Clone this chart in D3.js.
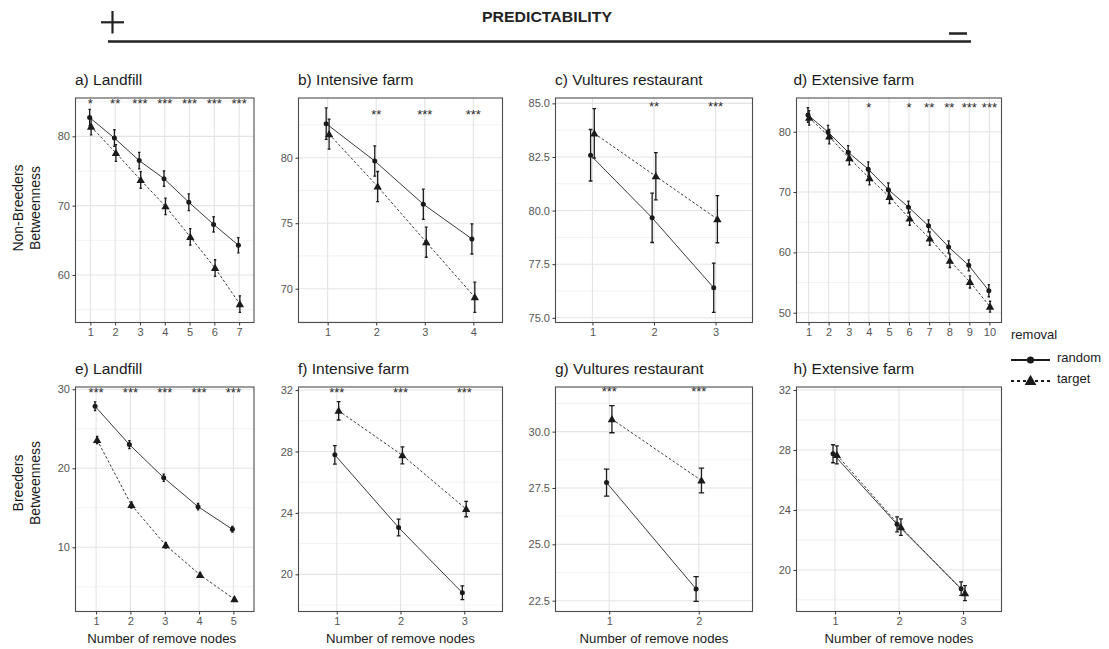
<!DOCTYPE html>
<html>
<head>
<meta charset="utf-8">
<script src="https://cdn.jsdelivr.net/npm/d3@7"></script>
<style>
  body { margin: 0; background: #fff; }
  svg { display: block; }
</style>
</head>
<body>
<svg id="chart" width="1109" height="649"></svg>
<script>
// ---- Non-breeders betweenness (top row) ----
const nbLandfillRandom  = [82.7, 79.75, 76.5, 73.9, 70.5, 67.3, 64.3];
const nbLandfillTarget  = [81.4, 77.6, 73.7, 69.9, 65.5, 61.0, 55.8];
const nbLandfillSeR     = [1.2, 1.2, 1.2, 1.1, 1.2, 1.1, 1.1];
const nbLandfillSeT     = [1.2, 1.2, 1.2, 1.2, 1.2, 1.2, 1.2];
const nbLandfillSig     = ["*", "**", "***", "***", "***", "***", "***"];

const nbIntensiveRandom = [82.6, 79.75, 76.45, 73.8];
const nbIntensiveTarget = [81.8, 77.8, 73.55, 69.35];
const nbIntensiveSeR    = [1.2, 1.15, 1.15, 1.15];
const nbIntensiveSeT    = [1.15, 1.15, 1.15, 1.15];
const nbIntensiveSig    = ["", "**", "***", "***"];

const nbVulturesRandom  = [82.58, 79.66, 76.4];
const nbVulturesTarget  = [83.6, 81.6, 79.6];
const nbVulturesSeR     = [1.2, 1.15, 1.15];
const nbVulturesSeT     = [1.15, 1.1, 1.1];
const nbVulturesSig     = ["", "**", "***"];

const nbExtensiveRandom = [82.77, 79.95, 76.6, 73.8, 70.4, 67.5, 64.4, 60.9, 57.85, 53.65];
const nbExtensiveTarget = [82.3, 79.2, 75.6, 72.3, 69.2, 65.6, 62.3, 58.6, 55.1, 51.0];
const nbExtensiveSeR    = [1.2, 1.1, 1.1, 1.2, 1.1, 1.0, 1.0, 1.0, 0.9, 1.0];
const nbExtensiveSeT    = [1.2, 1.2, 1.1, 1.1, 1.1, 1.1, 1.1, 1.1, 1.0, 0.9];
const nbExtensiveSig    = ["", "", "", "*", "", "*", "**", "**", "***", "***"];

// ---- Breeders betweenness (bottom row) ----
const brLandfillRandom  = [27.85, 23.0, 18.8, 15.14, 12.28];
const brLandfillTarget  = [23.58, 15.35, 10.25, 6.5, 3.42];
const brLandfillSeR     = [0.55, 0.5, 0.45, 0.4, 0.35];
const brLandfillSeT     = [0.45, 0.4, 0.35, 0.3, 0.25];
const brLandfillSig     = ["***", "***", "***", "***", "***"];

const brIntensiveRandom = [27.78, 23.05, 18.8];
const brIntensiveTarget = [30.65, 27.75, 24.25];
const brIntensiveSeR    = [0.6, 0.55, 0.45];
const brIntensiveSeT    = [0.6, 0.55, 0.5];
const brIntensiveSig    = ["***", "***", "***"];

const brVulturesRandom  = [27.74, 23.02];
const brVulturesTarget  = [30.55, 27.83];
const brVulturesSeR     = [0.6, 0.55];
const brVulturesSeT     = [0.6, 0.55];
const brVulturesSig     = ["***", "***"];

const brExtensiveRandom = [27.75, 23.04, 18.75];
const brExtensiveTarget = [27.67, 22.85, 18.45];
const brExtensiveSeR    = [0.6, 0.5, 0.45];
const brExtensiveSeT    = [0.6, 0.55, 0.5];
const brExtensiveSig    = ["", "", ""];

// ---- panel titles, axis ranges and tick labels ----
const panelTitles = ["a) Landfill", "b) Intensive farm", "c) Vultures restaurant", "d) Extensive farm",
                     "e) Landfill", "f) Intensive farm", "g) Vultures restaurant", "h) Extensive farm"];
const yRanges = [[53.15, 85.53], [67.42, 84.56], [74.78, 85.25], [48.38, 85.59],
                 [1.87, 30.29], [17.58, 32.2], [22.02, 31.98], [17.23, 32.2]];
const yTickValues = [[60, 70, 80], [70, 75, 80], [75, 77.5, 80, 82.5, 85], [50, 60, 70, 80],
                     [10, 20, 30], [20, 24, 28, 32], [22.5, 25, 27.5, 30], [20, 24, 28, 32]];
const yTickFormats = ["d", "d", ".1f", "d", "d", "d", ".1f", "d"];
const sigLevels = [85.2, 83.5, 85.0, 84.4, 30.0, 32.0, 31.9, 32.0];

const rowLabels = [["Non-Breeders", "Betweenness"], ["Breeders", "Betweenness"]];
const xAxisTitle = "Number of remove nodes";
const legendTitle = "removal";
const seriesNames = ["random", "target"];
const headerTitle = "PREDICTABILITY";

// Panel table assembled from the arrays above
const panels = [
  [nbLandfillRandom, nbLandfillTarget, nbLandfillSeR, nbLandfillSeT, nbLandfillSig],
  [nbIntensiveRandom, nbIntensiveTarget, nbIntensiveSeR, nbIntensiveSeT, nbIntensiveSig],
  [nbVulturesRandom, nbVulturesTarget, nbVulturesSeR, nbVulturesSeT, nbVulturesSig],
  [nbExtensiveRandom, nbExtensiveTarget, nbExtensiveSeR, nbExtensiveSeT, nbExtensiveSig],
  [brLandfillRandom, brLandfillTarget, brLandfillSeR, brLandfillSeT, brLandfillSig],
  [brIntensiveRandom, brIntensiveTarget, brIntensiveSeR, brIntensiveSeT, brIntensiveSig],
  [brVulturesRandom, brVulturesTarget, brVulturesSeR, brVulturesSeT, brVulturesSig],
  [brExtensiveRandom, brExtensiveTarget, brExtensiveSeR, brExtensiveSeT, brExtensiveSig]
].map((p, i) => ({
  random: p[0], target: p[1], seR: p[2], seT: p[3], sig: p[4],
  title: panelTitles[i], yRange: yRanges[i], ticks: yTickValues[i],
  fmt: yTickFormats[i], sigY: sigLevels[i], row: Math.floor(i / 4), col: i % 4
}));

// ---- layout ----
const FONT = "'Liberation Sans', Arial, Helvetica, sans-serif";
const columns = [[75.5, 254], [298.5, 502.5], [555.5, 752.5], [796.5, 1001.5]];
const rows = [[98, 322.5], [387, 611.5]];
const DODGE = 0.03;
const INK = "#1a1a1a";
const LINE_INK = "#3a3a3a";

const svg = d3.select("#chart");
const defs = svg.append("defs");

// ---- header: predictability gradient ----
const header = svg.append("g").attr("stroke", "#222").attr("stroke-width", 2.2);
header.append("line").attr("x1", 101).attr("x2", 124).attr("y1", 22.3).attr("y2", 22.3);
header.append("line").attr("x1", 112.5).attr("x2", 112.5).attr("y1", 11).attr("y2", 33.5);
header.append("line").attr("x1", 949).attr("x2", 967).attr("y1", 33.5).attr("y2", 33.5).attr("stroke-width", 2.5);
header.append("line").attr("x1", 108).attr("x2", 971).attr("y1", 41.5).attr("y2", 41.5).attr("stroke-width", 2.6);
svg.append("text")
  .attr("x", 547).attr("y", 22)
  .attr("text-anchor", "middle")
  .attr("font-family", FONT).attr("font-weight", "bold").attr("font-size", 14)
  .attr("fill", "#222")
  .attr("textLength", 130).attr("lengthAdjust", "spacingAndGlyphs")
  .text(headerTitle);

const triangle = d3.symbol().type(d3.symbolTriangle);

panels.forEach((p, i) => {
  const [x0, x1] = columns[p.col];
  const [y0, y1] = rows[p.row];
  const n = p.random.length;

  const x = d3.scaleLinear().domain([0.4, n + 0.6]).range([x0, x1]);
  const y = d3.scaleLinear().domain(p.yRange).range([y1, y0]);
  const g = svg.append("g");

  const clipId = "clip" + i;
  defs.append("clipPath").attr("id", clipId)
    .append("rect").attr("x", x0).attr("y", y0).attr("width", x1 - x0).attr("height", y1 - y0);

  // background grid
  const step = p.ticks[1] - p.ticks[0];
  const minor = [p.ticks[0] - step / 2, ...p.ticks.map(t => t + step / 2)]
    .filter(v => v > p.yRange[0] && v < p.yRange[1]);
  const grid = g.append("g");
  grid.selectAll(".minor").data(minor).join("line")
    .attr("x1", x0).attr("x2", x1).attr("y1", d => y(d)).attr("y2", d => y(d))
    .attr("stroke", "#efefef").attr("stroke-width", 0.8);
  grid.selectAll(".major").data(p.ticks).join("line")
    .attr("x1", x0).attr("x2", x1).attr("y1", d => y(d)).attr("y2", d => y(d))
    .attr("stroke", "#e4e4e4").attr("stroke-width", 1.1);
  grid.selectAll(".vert").data(d3.range(1, n + 1)).join("line")
    .attr("x1", d => x(d)).attr("x2", d => x(d)).attr("y1", y0).attr("y2", y1)
    .attr("stroke", "#e4e4e4").attr("stroke-width", 1.1);

  const plot = g.append("g").attr("clip-path", `url(#${clipId})`);

  const series = [
    { vals: p.random, se: p.seR, off: -DODGE, dash: null, shape: "circle" },
    { vals: p.target, se: p.seT, off: DODGE, dash: "2.6,2", shape: "triangle" }
  ];

  series.forEach(s => {
    const line = d3.line().x((d, k) => x(k + 1 + s.off)).y(d => y(d));
    plot.append("path").datum(s.vals)
      .attr("d", line).attr("fill", "none")
      .attr("stroke", LINE_INK).attr("stroke-width", 1)
      .attr("stroke-dasharray", s.dash);
  });

  const cap = Math.max(1.2, 0.03 * (x(2) - x(1)));
  series.forEach(s => {
    const eb = plot.append("g").attr("stroke", INK).attr("stroke-width", 1.3);
    s.vals.forEach((v, k) => {
      const cx = x(k + 1 + s.off);
      const top = y(v + s.se[k]), bot = y(v - s.se[k]);
      eb.append("line").attr("x1", cx).attr("x2", cx).attr("y1", top).attr("y2", bot);
      eb.append("line").attr("x1", cx - cap).attr("x2", cx + cap).attr("y1", top).attr("y2", top);
      eb.append("line").attr("x1", cx - cap).attr("x2", cx + cap).attr("y1", bot).attr("y2", bot);
    });
  });

  series.forEach(s => {
    if (s.shape === "circle") {
      plot.selectAll(null).data(s.vals).join("circle")
        .attr("cx", (d, k) => x(k + 1 + s.off)).attr("cy", d => y(d))
        .attr("r", 2.5).attr("fill", INK);
    } else {
      plot.selectAll(null).data(s.vals).join("path")
        .attr("d", triangle.size(30))
        .attr("transform", (d, k) => `translate(${x(k + 1 + s.off)},${y(d) + 0.6})`)
        .attr("fill", INK);
    }
  });

  // significance marks
  plot.selectAll(null).data(p.sig).join("text")
    .attr("x", (d, k) => x(k + 1)).attr("y", y(p.sigY) + 7.3)
    .attr("text-anchor", "middle")
    .attr("font-family", FONT).attr("font-size", 13)
    .attr("fill", "#2a2a2a")
    .text(d => d);

  // panel border
  g.append("rect").attr("x", x0).attr("y", y0).attr("width", x1 - x0).attr("height", y1 - y0)
    .attr("fill", "none").attr("stroke", "#4d4d4d").attr("stroke-width", 1.1);

  // axes
  const yAxis = d3.axisLeft(y).tickValues(p.ticks).tickFormat(d3.format(p.fmt)).tickSize(3).tickPadding(2.5);
  const xAxis = d3.axisBottom(x).tickValues(d3.range(1, n + 1)).tickFormat(d3.format("d")).tickSize(3).tickPadding(2.5);
  const ya = g.append("g").attr("transform", `translate(${x0},0)`).call(yAxis);
  const xa = g.append("g").attr("transform", `translate(0,${y1})`).call(xAxis);
  [ya, xa].forEach(a => {
    a.select(".domain").remove();
    a.selectAll(".tick line").attr("stroke", "#333");
    a.selectAll(".tick text").attr("fill", "#555").attr("font-family", FONT).attr("font-size", 11);
  });

  // panel title
  g.append("text")
    .attr("x", x0 - (p.col === 3 ? 3 : 0.5)).attr("y", y0 - 13.5)
    .attr("font-family", FONT).attr("font-size", 15.5).attr("fill", INK)
    .text(p.title);

  if (p.row === 1) {
    g.append("text")
      .attr("x", (x0 + x1) / 2 - (p.col === 0 ? 3 : 0)).attr("y", 643)
      .attr("text-anchor", "middle")
      .attr("font-family", FONT).attr("font-size", 13.2).attr("fill", INK)
      .text(xAxisTitle);
  }
});

// row (y axis) titles
const rowCenters = [208, 483];
rowLabels.forEach((lines, r) => {
  lines.forEach((t, j) => {
    svg.append("text")
      .attr("transform", `translate(${23 + j * 17},${rowCenters[r]}) rotate(-90)`)
      .attr("text-anchor", "middle")
      .attr("font-family", FONT).attr("font-size", 14).attr("fill", INK)
      .text(t);
  });
});

// legend
const legend = svg.append("g");
legend.append("text").attr("x", 1011).attr("y", 339)
  .attr("font-family", FONT).attr("font-size", 13).attr("fill", INK).text(legendTitle);
seriesNames.forEach((name, k) => {
  const ky = 360 + k * 21;
  legend.append("line").attr("x1", 1011).attr("x2", 1050).attr("y1", ky).attr("y2", ky)
    .attr("stroke", INK).attr("stroke-width", 2)
    .attr("stroke-dasharray", k === 1 ? "3,3" : null);
  if (k === 0) {
    legend.append("circle").attr("cx", 1030.5).attr("cy", ky).attr("r", 3.6).attr("fill", INK);
  } else {
    legend.append("path").attr("d", triangle.size(60))
      .attr("transform", `translate(1030.5,${ky + 0.5})`).attr("fill", INK);
  }
  legend.append("text").attr("x", 1057).attr("y", ky + 1.5)
    .attr("font-family", FONT).attr("font-size", 13).attr("fill", INK).text(name);
});
</script>
</body>
</html>
